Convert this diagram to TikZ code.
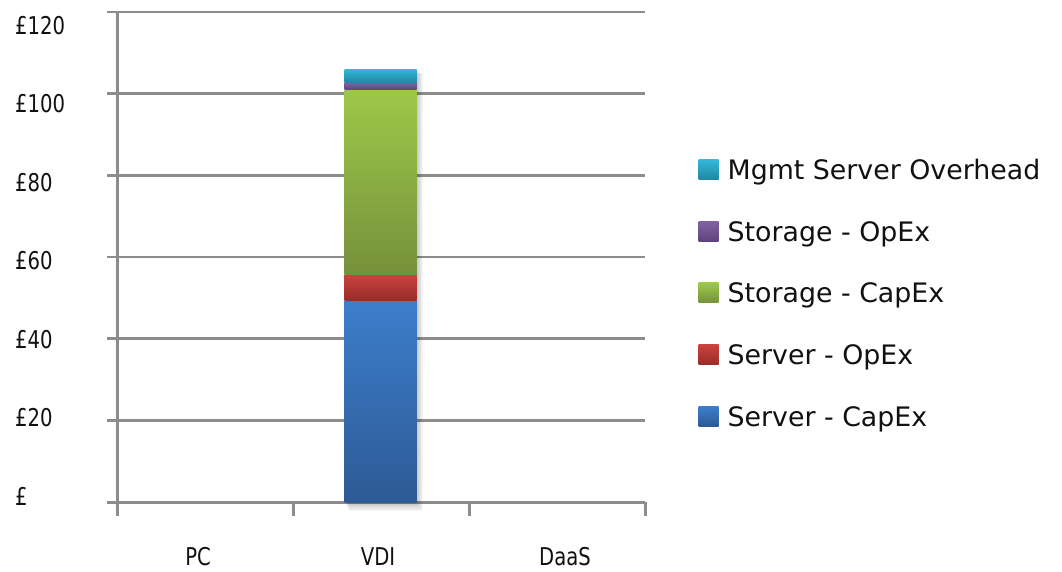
\documentclass[tikz,border=0pt]{standalone}
\usepackage{fontspec}
\setmainfont{DejaVu Sans}
\newfontfamily\axisfont[FakeStretch=0.8]{DejaVu Sans}
\definecolor{gridgray}{HTML}{8C8C8C}
\definecolor{txt}{HTML}{111111}
% segment colours (top / bottom of each gradient)
\definecolor{blueT}{HTML}{3D7ECC}\definecolor{blueB}{HTML}{2D5A95}
\definecolor{redT}{HTML}{CC423E}\definecolor{redB}{HTML}{982D2A}
\definecolor{greenT}{HTML}{9EC849}\definecolor{greenB}{HTML}{75913B}
\definecolor{purpleT}{HTML}{8262A6}\definecolor{purpleB}{HTML}{5E447B}
\definecolor{cyanT}{HTML}{33B8DA}\definecolor{cyanB}{HTML}{2287A4}
\tikzset{
  gridline/.style={draw=gridgray, line width=2.6pt},
  axisline/.style={draw=gridgray, line width=3pt},
  ylab/.style={anchor=base west, inner sep=0pt, text=txt,
    font=\axisfont\fontsize{24.5}{28}\selectfont},
  xlab/.style={anchor=base, inner sep=0pt, text=txt,
    font=\axisfont\fontsize{24.5}{28}\selectfont},
  leglab/.style={anchor=base west, inner sep=0pt, text=txt,
    font=\fontsize{26.8}{30}\selectfont},
}
\begin{document}
\begin{tikzpicture}[x=1pt, y=-1pt]
\useasboundingbox (0,0) rectangle (1062,571);
\fill[white] (0,0) rectangle (1062,571);

% horizontal gridlines with their left ticks
\foreach \v in {1,...,6}{
  \pgfmathsetmacro{\yy}{502-81.667*\v}
  \draw[gridline] (107,\yy) -- (645,\yy);
}
% category axis and its ticks
\draw[axisline] (107,502) -- (645,502);
\foreach \xx in {117,293,469,645}{
  \draw[axisline] (\xx,502) -- (\xx,516);
}
% value axis
\draw[axisline] (117,11) -- (117,516);

% value labels
\node[ylab] (y0) at (15,505) {£};
\node[ylab] (y20) at (15,426.5) {£20};
\node[ylab] (y40) at (15,348) {£40};
\node[ylab] (y60) at (15,269.5) {£60};
\node[ylab] (y80) at (15,191) {£80};
\node[ylab] (y100) at (15,112.7) {£100};
\node[ylab] (y120) at (15,34.5) {£120};

% category labels
\node[xlab] (pc) at (198,565) {PC};
\node[xlab] (vdi) at (378,565) {VDI};
\node[xlab] (daas) at (565,565) {DaaS};

% soft shadow behind the VDI bar
\foreach \s in {1,...,7}{
  \fill[black, opacity=0.035] (344.5+\s*0.6,70+\s*0.5) rectangle (416.5+\s*0.9,502+\s*1.3);
}

% stacked VDI bar
\shade[top color=blueT, bottom color=blueB] (344.5,300) rectangle (416.5,502);
\shade[top color=redT, bottom color=redB] (344.5,274.3) rectangle (416.5,300);
\shade[top color=greenT, bottom color=greenB] (344.5,89.7) rectangle (416.5,274.3);
\shade[top color=purpleT, bottom color=purpleB] (344.5,82.3) rectangle (416.5,89.7);
\shade[top color=cyanT, bottom color=cyanB] (344.5,69) rectangle (416.5,82.3);

% legend
\shade[top color=cyanT, bottom color=cyanB] (698.5,159.5) rectangle (718.5,179.5);
\node[leglab] (l1) at (727.5,179.5) {Mgmt Server Overhead};
\shade[top color=purpleT, bottom color=purpleB] (698.5,221.2) rectangle (718.5,241.2);
\node[leglab] (l2) at (727.5,241.2) {Storage - OpEx};
\shade[top color=greenT, bottom color=greenB] (698.5,282.9) rectangle (718.5,302.9);
\node[leglab] (l3) at (727.5,302.9) {Storage - CapEx};
\shade[top color=redT, bottom color=redB] (698.5,344.6) rectangle (718.5,364.6);
\node[leglab] (l4) at (727.5,364.6) {Server - OpEx};
\shade[top color=blueT, bottom color=blueB] (698.5,406.3) rectangle (718.5,426.3);
\node[leglab] (l5) at (727.5,426.3) {Server - CapEx};
\end{tikzpicture}
\end{document}
